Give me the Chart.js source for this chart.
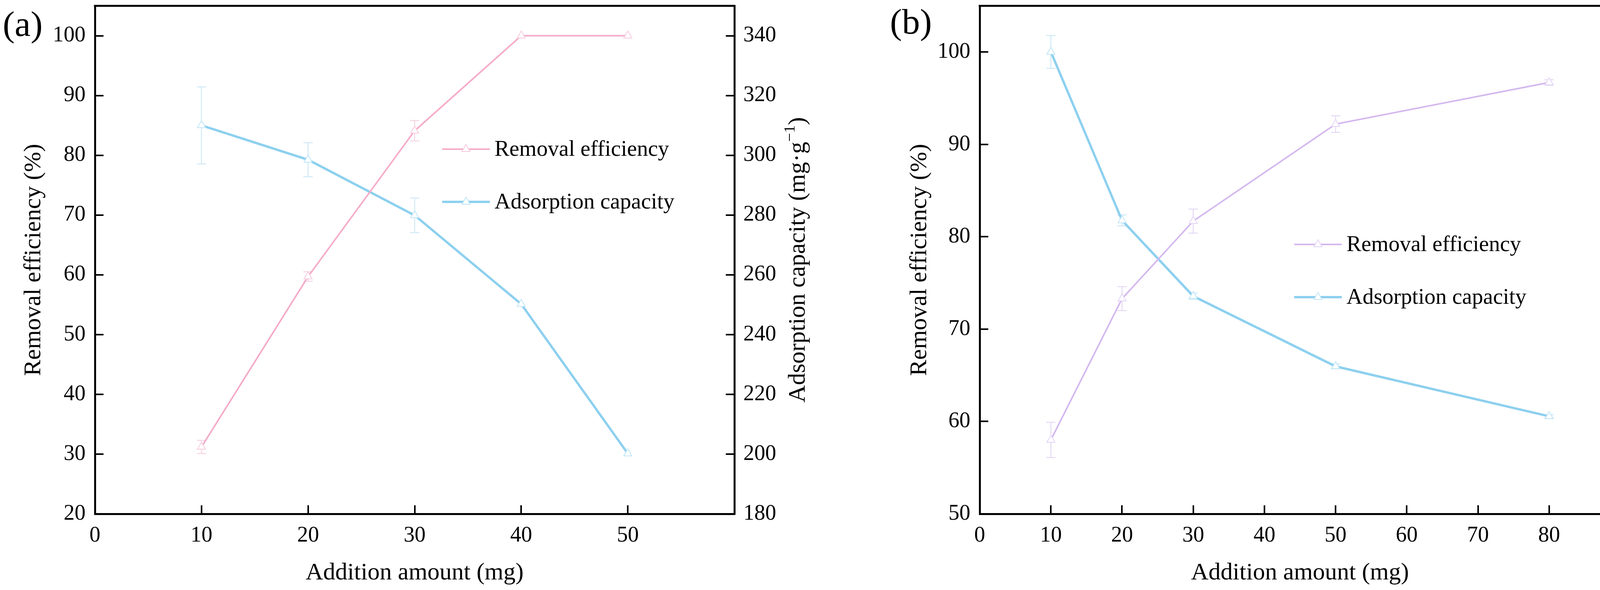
<!DOCTYPE html>
<html>
<head>
<meta charset="utf-8">
<script src="https://cdn.jsdelivr.net/npm/chart.js@4.4.1/dist/chart.umd.min.js"></script>
<style>
  html, body { margin: 0; padding: 0; background: #fff; }
  #wrap { position: relative; width: 4335px; height: 1511px; overflow: hidden; }
  .box { position: absolute; top: 0; height: 1511px; }
</style>
</head>
<body>
<div id="wrap">
  <div class="box" style="left:0;width:2168px"><canvas id="chartA"></canvas></div>
  <div class="box" style="left:2168px;width:2167px"><canvas id="chartB"></canvas></div>
</div>
<script>
// panel (a)
const amountA = [10, 20, 30, 40, 50];
const removalA = [31.2, 59.7, 84.1, 100, 100];
const removalErrA = [1.1, 0.8, 1.7, 0, 0];
const capacityA = [310, 298.5, 279.9, 250.2, 200.2];
const capacityErrA = [12.9, 5.7, 5.8, 0, 0];

// panel (b)
const amountB = [10, 20, 30, 50, 80];
const removalB = [58.0, 73.3, 81.7, 92.2, 96.7];
const removalErrB = [1.9, 1.3, 1.3, 0.9, 0.3];
const capacityB = [59.2, 37.6, 27.9, 18.9, 12.5];
const capacityErrB = [2.1, 0.7, 0.4, 0.3, 0.2];

// tick labels
const xTicksA = [0, 10, 20, 30, 40, 50];
const leftTicksA = [20, 30, 40, 50, 60, 70, 80, 90, 100];
const rightTicksA = [180, 200, 220, 240, 260, 280, 300, 320, 340];
const xTicksB = [0, 10, 20, 30, 40, 50, 60, 70, 80, 90];
const leftTicksB = [50, 60, 70, 80, 90, 100];
const rightTicksB = [0, 10, 20, 30, 40, 50, 60];

const seriesNames = ["Removal efficiency", "Adsorption capacity"];
const xTitle = "Addition amount (mg)";
const leftTitle = "Removal efficiency (%)";

const SERIF = "'Liberation Serif', 'Times New Roman', serif";

function pts(xs, ys) {
  return xs.map((x, i) => ({ x: x, y: ys[i] }));
}

function axis(pos, min, max, list, size, pad) {
  return {
    type: "linear",
    position: pos,
    min: min,
    max: max,
    afterBuildTicks: (s) => { s.ticks = list.map((v) => ({ value: v })); },
    afterFit: (s) => {
      if (pos === "bottom") s.height = size;
      else s.width = size;
      // keep the plot box where it is, labels may overhang
      s.paddingTop = 0; s.paddingBottom = 0; s.paddingLeft = 0; s.paddingRight = 0;
    },
    grid: { drawOnChartArea: false, drawTicks: true, tickLength: -22, color: "#000", lineWidth: 4 },
    border: { display: true, color: "#000", width: 5 },
    ticks: { color: "#000", font: { family: SERIF, size: 56 }, padding: pad, autoSkip: false, maxRotation: 0 },
  };
}

// error bars, drawn under the lines
const errorBars = {
  id: "errorBars",
  beforeDatasetsDraw(chart) {
    const ctx = chart.ctx;
    chart.data.datasets.forEach((ds, di) => {
      const meta = chart.getDatasetMeta(di);
      const ys = chart.scales[ds.yAxisID];
      ctx.save();
      ctx.strokeStyle = ds.errorColor;
      ctx.lineWidth = 2.5;
      meta.data.forEach((el, i) => {
        const e = ds.errors[i];
        if (!e) return;
        const v = ds.data[i].y;
        const top = ys.getPixelForValue(v + e);
        const bot = ys.getPixelForValue(v - e);
        ctx.beginPath();
        ctx.moveTo(el.x, top); ctx.lineTo(el.x, bot);
        ctx.moveTo(el.x - 12, top); ctx.lineTo(el.x + 12, top);
        ctx.moveTo(el.x - 12, bot); ctx.lineTo(el.x + 12, bot);
        ctx.stroke();
      });
      ctx.restore();
    });
  },
};

// frame top, panel label, right title, legend inside plot
const decor = {
  id: "decor",
  afterDraw(chart, args, o) {
    const ctx = chart.ctx;
    const a = chart.chartArea;
    ctx.save();
    ctx.strokeStyle = "#000";
    ctx.lineWidth = 5;
    ctx.beginPath();
    ctx.moveTo(a.left - 2.5, a.top);
    ctx.lineTo(a.right + 2.5, a.top);
    ctx.stroke();

    ctx.fillStyle = "#000";
    ctx.textBaseline = "middle";
    ctx.textAlign = "center";
    ctx.font = "92px " + SERIF;
    ctx.fillText(o.label, o.labelX, o.labelY);

    // right axis title, reading bottom to top, with superscript
    const main = "Adsorption capacity (mg\u00b7g";
    const sup = "\u22121";
    const tail = ")";
    ctx.translate(o.rightTitleX, (a.top + a.bottom) / 2);
    ctx.rotate(-Math.PI / 2);
    ctx.font = "62px " + SERIF;
    const w1 = ctx.measureText(main).width;
    const w3 = ctx.measureText(tail).width;
    ctx.font = "40px " + SERIF;
    const w2 = ctx.measureText(sup).width;
    let x = -(w1 + w2 + w3) / 2;
    ctx.textAlign = "left";
    ctx.textBaseline = "alphabetic";
    ctx.font = "62px " + SERIF;
    ctx.fillText(main, x, 20);
    ctx.font = "40px " + SERIF;
    ctx.fillText(sup, x + w1, -6);
    ctx.font = "62px " + SERIF;
    ctx.fillText(tail, x + w1 + w2, 20);
    ctx.restore();

    // legend
    ctx.save();
    chart.data.datasets.forEach((ds, i) => {
      const y = o.legendY[i];
      const x0 = o.legendX;
      const x1 = x0 + 122;
      ctx.strokeStyle = ds.borderColor;
      ctx.lineWidth = ds.borderWidth;
      ctx.beginPath();
      ctx.moveTo(x0, y); ctx.lineTo(x1, y);
      ctx.stroke();
      ctx.fillStyle = "#fff";
      ctx.strokeStyle = ds.pointBorderColor;
      ctx.lineWidth = 2;
      Chart.helpers.drawPoint(ctx, { pointStyle: "triangle", radius: 12, rotation: 0, borderWidth: 2 }, (x0 + x1) / 2, y);
      ctx.fillStyle = "#000";
      ctx.font = "57px " + SERIF;
      ctx.textAlign = "left";
      ctx.textBaseline = "middle";
      ctx.fillText(ds.label, x1 + 12, y + 2);
    });
    ctx.restore();
  },
};

function lineSet(label, data, errs, color, pointColor, errColor, width, axisId) {
  return {
    label: label,
    data: data,
    errors: errs,
    errorColor: errColor,
    yAxisID: axisId,
    borderColor: color,
    borderWidth: width,
    tension: 0,
    pointStyle: "triangle",
    pointRadius: 12,
    pointBorderWidth: 2,
    pointBackgroundColor: "#fff",
    pointBorderColor: pointColor,
    clip: false,
  };
}

function makeChart(id, sets, sx, sy, sy1, deco, leftTitlePad) {
  sy.title = { display: true, text: leftTitle, color: "#000", font: { family: SERIF, size: 62 }, padding: { top: leftTitlePad, bottom: 0 } };
  sx.title = { display: true, text: xTitle, color: "#000", font: { family: SERIF, size: 62 }, padding: { top: 0, bottom: 6 } };
  return new Chart(document.getElementById(id), {
    type: "line",
    data: { datasets: sets },
    options: {
      responsive: true,
      maintainAspectRatio: false,
      devicePixelRatio: 1,
      animation: false,
      layout: { padding: { top: 15, left: 0, right: 0, bottom: 0 } },
      scales: { x: sx, y: sy, y1: sy1 },
      plugins: { legend: { display: false }, tooltip: { enabled: false }, decor: deco },
    },
    plugins: [errorBars, decor],
  });
}

makeChart(
  "chartA",
  [
    lineSet(seriesNames[0], pts(amountA, removalA), removalErrA, "#f5abc9", "#f7cadd", "#f6d5e3", 4, "y"),
    lineSet(seriesNames[1], pts(amountA, capacityA), capacityErrA, "#8dd0ef", "#bfe5f6", "#cfe9f6", 6, "y1"),
  ],
  axis("bottom", 0, 60, xTicksA, 195, 45),
  axis("left", 20, 105, leftTicksA, 243, 46),
  axis("right", 180, 350, rightTicksA, 288, 45),
  { label: "(a)", labelX: 58, labelY: 68, rightTitleX: 2040, legendX: 1132, legendY: [382, 517] },
  50
);

makeChart(
  "chartB",
  [
    lineSet(seriesNames[0], pts(amountB, removalB), removalErrB, "#d4b8ef", "#e3d3f6", "#e4d9f5", 4, "y"),
    lineSet(seriesNames[1], pts(amountB, capacityB), capacityErrB, "#8dd0ef", "#bfe5f6", "#cfe9f6", 6, "y1"),
  ],
  axis("bottom", 0, 90, xTicksB, 195, 45),
  axis("left", 50, 105, leftTicksB, 340, 46),
  axis("right", 0, 65.1, rightTicksB, 187, 45),
  { label: "(b)", labelX: 164, labelY: 62, rightTitleX: 2110, legendX: 1145, legendY: [626, 761] },
  150
);
</script>
</body>
</html>
